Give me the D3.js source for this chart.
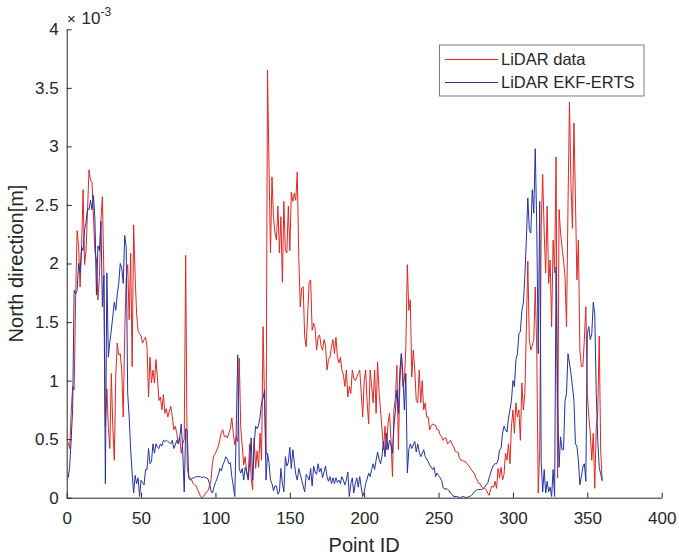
<!DOCTYPE html>
<html>
<head>
<meta charset="utf-8">
<script src="https://cdn.jsdelivr.net/npm/d3@7"></script>
<style>
  body { margin: 0; background: #fff; }
  svg { display: block; font-family: "Liberation Sans", Arial, Helvetica, sans-serif; }
</style>
</head>
<body>
<svg id="chart" width="679" height="560"></svg>
<script>
// values in units of 1e-3 m, one per point ID (1..360)
const lidarData = [
  0.47, 0.42, 0.72, 0.95, 0.92, 1.70, 2.28, 2.15, 1.80, 2.14,
  2.63, 1.99, 2.11, 2.45, 2.80, 2.71, 2.70, 2.40, 2.10, 2.03,
  1.69, 1.89, 2.37, 2.57, 1.90, 0.61, 0.93, 0.60, 0.42, 1.06,
  0.60, 0.32, 1.05, 1.32, 1.22, 1.23, 1.09, 0.69, 1.40, 1.86,
  1.99, 1.52, 2.09, 1.12, 2.33, 1.89, 1.57, 1.42, 1.40, 1.38,
  1.32, 1.35, 1.37, 1.29, 0.86, 1.20, 0.98, 1.09, 0.98, 1.18,
  1.02, 0.83, 0.86, 0.75, 0.88, 0.72, 0.76, 0.69, 0.74, 0.78,
  0.69, 0.58, 0.61, 0.55, 0.46, 0.52, 0.38, 0.46, 0.50, 2.07,
  0.26, 0.19, 0.17, 0.15, 0.12, 0.11, 0.10, 0.07, 0.04, 0.01,
  0.00, 0.01, 0.03, 0.05, 0.06, 0.10, 0.15, 0.30, 0.36, 0.38,
  0.41, 0.44, 0.50, 0.56, 0.58, 0.52, 0.53, 0.51, 0.55, 0.59,
  0.68, 0.55, 0.45, 0.52, 0.48, 1.19, 0.60, 0.44, 0.28, 0.35,
  0.22, 0.17, 0.46, 0.17, 0.07, 0.51, 0.25, 0.40, 0.26, 0.55,
  0.32, 1.46, 0.83, 0.37, 3.65, 2.83, 2.09, 2.74, 2.40, 2.26,
  2.20, 2.49, 2.09, 2.40, 1.84, 2.53, 2.11, 2.09, 2.49, 2.11,
  2.61, 2.53, 2.60, 2.54, 2.78, 2.06, 1.63, 1.79, 1.80, 1.37,
  1.29, 1.57, 1.84, 1.86, 1.43, 1.49, 1.45, 1.26, 1.37, 1.39,
  1.30, 1.26, 1.35, 1.30, 1.09, 1.18, 1.20, 1.29, 1.35, 1.23,
  1.37, 1.20, 1.15, 1.20, 1.09, 1.05, 0.95, 1.09, 0.86, 0.95,
  0.89, 1.09, 1.02, 1.00, 1.03, 1.06, 1.09, 0.90, 0.69, 1.00,
  1.09, 0.81, 0.63, 1.09, 0.95, 0.81, 1.09, 0.72, 1.16, 0.90,
  0.75, 0.58, 0.41, 0.61, 0.41, 0.63, 0.72, 0.50, 0.18, 0.75,
  0.86, 1.13, 0.41, 0.98, 1.23, 0.95, 1.00, 1.29, 1.99, 1.60,
  1.69, 1.03, 1.26, 1.09, 0.83, 0.81, 1.09, 0.81, 1.00, 0.75,
  0.81, 0.69, 0.69, 0.58, 0.61, 0.63, 0.62, 0.62, 0.58, 0.58,
  0.54, 0.52, 0.49, 0.51, 0.51, 0.46, 0.47, 0.49, 0.46, 0.44,
  0.40, 0.39, 0.39, 0.34, 0.32, 0.32, 0.31, 0.31, 0.29, 0.28,
  0.26, 0.24, 0.22, 0.21, 0.17, 0.15, 0.12, 0.12, 0.09, 0.08,
  0.08, 0.07, 0.04, 0.02, 0.07, 0.10, 0.09, 0.14, 0.08, 0.25,
  0.17, 0.26, 0.15, 0.20, 0.38, 0.32, 0.46, 0.29, 0.61, 0.75,
  0.55, 0.81, 0.69, 0.75, 0.49, 0.98, 0.75, 0.89, 1.43, 2.02,
  1.35, 1.26, 1.30, 1.35, 1.80, 1.26, 0.04, 0.41, 2.31, 2.76,
  2.26, 1.92, 2.49, 1.83, 2.03, 1.46, 2.20, 1.92, 2.91, 0.17,
  2.46, 2.26, 2.14, 2.03, 1.89, 1.46, 2.49, 3.38, 2.68, 2.30,
  3.20, 2.55, 1.86, 2.20, 1.26, 1.12, 1.12, 1.35, 1.63, 0.89,
  0.69, 0.55, 0.32, 0.55, 0.08, 0.61, 0.72, 1.38, 0.40, 0.14
];

const lidarErts = [
  0.17, 0.26, 0.50, 0.75, 1.77, 1.74, 1.77, 2.00, 1.92, 2.14,
  2.11, 2.29, 2.35, 2.47, 2.46, 2.54, 2.46, 2.58, 2.37, 1.73,
  2.15, 2.11, 2.36, 1.63, 1.90, 0.12, 1.92, 1.20, 1.33, 1.43,
  1.55, 1.67, 1.60, 1.74, 1.83, 2.00, 1.96, 1.83, 2.24, 2.14,
  0.89, 0.69, 0.41, 0.21, 0.04, 0.19, 0.12, 0.17, 0.01, 0.15,
  0.13, 0.11, 0.24, 0.24, 0.42, 0.29, 0.31, 0.46, 0.38, 0.46,
  0.43, 0.42, 0.46, 0.44, 0.49, 0.48, 0.49, 0.48, 0.47, 0.46,
  0.49, 0.42, 0.45, 0.49, 0.46, 0.52, 0.63, 0.40, 0.05, 0.59,
  0.58, 0.17, 0.15, 0.16, 0.17, 0.17, 0.18, 0.18, 0.18, 0.18,
  0.17, 0.18, 0.17, 0.17, 0.16, 0.12, 0.06, 0.04, 0.09, 0.13,
  0.16, 0.20, 0.25, 0.23, 0.28, 0.31, 0.35, 0.33, 0.29, 0.30,
  0.18, 0.10, 0.01, 0.60, 1.22, 0.25, 0.21, 0.25, 0.15, 0.26,
  0.22, 0.15, 0.30, 0.51, 0.15, 0.45, 0.61, 0.59, 0.62, 0.69,
  0.81, 0.85, 0.92, 0.15, 0.38, 0.30, 0.15, 0.12, 0.06, 0.10,
  0.10, 0.03, 0.05, 0.25, 0.12, 0.05, 0.35, 0.27, 0.30, 0.43,
  0.25, 0.41, 0.30, 0.20, 0.15, 0.25, 0.20, 0.15, 0.10, 0.05,
  0.20, 0.18, 0.15, 0.25, 0.10, 0.27, 0.22, 0.20, 0.29, 0.22,
  0.25, 0.17, 0.22, 0.27, 0.18, 0.14, 0.18, 0.12, 0.17, 0.12,
  0.17, 0.13, 0.15, 0.12, 0.18, 0.15, 0.11, 0.15, 0.22, 0.01,
  0.12, 0.17, 0.04, 0.12, 0.17, 0.09, 0.18, 0.09, 0.01, 0.05,
  0.12, 0.16, 0.21, 0.18, 0.24, 0.29, 0.24, 0.32, 0.39, 0.33,
  0.29, 0.36, 0.48, 0.35, 0.55, 0.41, 0.49, 0.45, 0.38, 0.61,
  0.75, 0.92, 0.72, 1.09, 1.23, 1.06, 0.75, 1.06, 0.21, 0.41,
  0.46, 0.42, 0.45, 0.48, 0.39, 0.46, 0.39, 0.35, 0.38, 0.41,
  0.35, 0.33, 0.31, 0.28, 0.26, 0.24, 0.26, 0.18, 0.21, 0.19,
  0.17, 0.15, 0.09, 0.07, 0.08, 0.07, 0.06, 0.04, 0.03, 0.01,
  0.01, 0.01, 0.01, 0.00, 0.00, 0.01, 0.01, 0.00, 0.00, 0.01,
  0.01, 0.02, 0.03, 0.05, 0.06, 0.07, 0.07, 0.07, 0.07, 0.08,
  0.09, 0.11, 0.12, 0.17, 0.21, 0.25, 0.28, 0.29, 0.29, 0.32,
  0.41, 0.42, 0.55, 0.61, 0.58, 0.56, 0.68, 0.75, 0.83, 1.00,
  0.95, 1.18, 1.23, 1.40, 1.42, 1.60, 1.66, 1.89, 2.20, 2.56,
  2.29, 2.26, 2.63, 2.43, 2.98, 2.31, 1.23, 2.53, 0.30, 0.05,
  0.24, 0.04, 0.14, 0.05, 0.09, 0.01, 0.24, 0.01, 1.97, 0.86,
  0.26, 0.52, 0.41, 0.41, 0.83, 0.89, 1.23, 1.15, 1.06, 0.95,
  0.83, 0.46, 0.44, 0.32, 0.11, 0.18, 0.26, 0.29, 0.14, 1.40,
  1.46, 1.35, 1.40, 1.67, 1.57, 0.89, 0.49, 0.26, 0.20, 0.15
];

const pointIds = d3.range(1, lidarData.length + 1);
const xTicks = [0, 50, 100, 150, 200, 250, 300, 350, 400];
const yTicks = [0, 0.5, 1, 1.5, 2, 2.5, 3, 3.5, 4];
const seriesNames = ["LiDAR data", "LiDAR EKF-ERTS"];
const seriesColors = ["#e3261f", "#2233a6"];

(function () {
  const margin = { top: 29.3, left: 66.7 },
        width = 595,
        height = 468.4;
  const axisColor = "#262626";

  const svg = d3.select("#chart");
  const g = svg.append("g")
    .attr("transform", `translate(${margin.left}, ${margin.top})`);

  const x = d3.scaleLinear().domain([0, 400]).range([0, width]);
  const y = d3.scaleLinear().domain([0, 4]).range([height, 0]);

  // lines (red first, blue on top)
  const line = d3.line()
    .x((d, i) => x(pointIds[i]))
    .y(d => y(d));

  [lidarData, lidarErts].forEach((s, k) => {
    g.append("path")
      .datum(s)
      .attr("fill", "none")
      .attr("stroke", seriesColors[k])
      .attr("stroke-width", 1)
      .attr("stroke-linejoin", "round")
      .attr("d", line);
  });

  // X axis
  const xAxis = g.append("g")
    .attr("transform", `translate(0, ${height})`)
    .call(d3.axisBottom(x).tickValues(xTicks).tickFormat(d3.format("d"))
      .tickSizeInner(-5).tickSizeOuter(0).tickPadding(14));

  // Y axis
  const yAxis = g.append("g")
    .call(d3.axisLeft(y).tickValues(yTicks).tickFormat(d => String(d))
      .tickSizeInner(-5).tickSizeOuter(0).tickPadding(8));

  [xAxis, yAxis].forEach(a => {
    a.select(".domain").attr("stroke", axisColor).attr("stroke-width", 1);
    a.selectAll(".tick line").attr("stroke", axisColor);
    a.selectAll(".tick text")
      .attr("fill", axisColor)
      .style("font-size", "17px")
      .style("font-family", "'Liberation Sans', Arial, sans-serif");
  });

  // exponent label
  const ex = svg.append("text")
    .attr("y", 23.5)
    .attr("fill", axisColor)
    .style("font-size", "17px");
  ex.append("tspan").attr("x", 67).style("font-size", "15px").text("×");
  ex.append("tspan").attr("x", 81.5).text("10");
  ex.append("tspan").attr("x", 100.5).attr("dy", -8).style("font-size", "12px").text("-3");

  // X label
  svg.append("text")
    .attr("x", margin.left + width / 2)
    .attr("y", 551.5)
    .attr("text-anchor", "middle")
    .attr("fill", axisColor)
    .style("font-size", "20px")
    .text("Point ID");

  // Y label
  svg.append("text")
    .attr("transform", `translate(22.5, ${margin.top + height / 2}) rotate(-90)`)
    .attr("text-anchor", "middle")
    .attr("fill", axisColor)
    .style("font-size", "20px")
    .text("North direction[m]");

  // legend
  const lg = svg.append("g");
  lg.append("rect")
    .attr("x", 439.5).attr("y", 45)
    .attr("width", 204.5).attr("height", 51)
    .attr("fill", "#fff")
    .attr("stroke", "#7f7f7f")
    .attr("stroke-width", 1);
  const rowY = [59.5, 82.5];
  seriesNames.forEach((name, k) => {
    lg.append("line")
      .attr("x1", 445).attr("x2", 498)
      .attr("y1", rowY[k]).attr("y2", rowY[k])
      .attr("stroke", seriesColors[k])
      .attr("stroke-width", 1);
    lg.append("text")
      .attr("x", 501).attr("y", rowY[k])
      .attr("dy", "0.35em")
      .attr("fill", axisColor)
      .style("font-size", "16.5px")
      .text(name);
  });
})();
</script>
</body>
</html>
